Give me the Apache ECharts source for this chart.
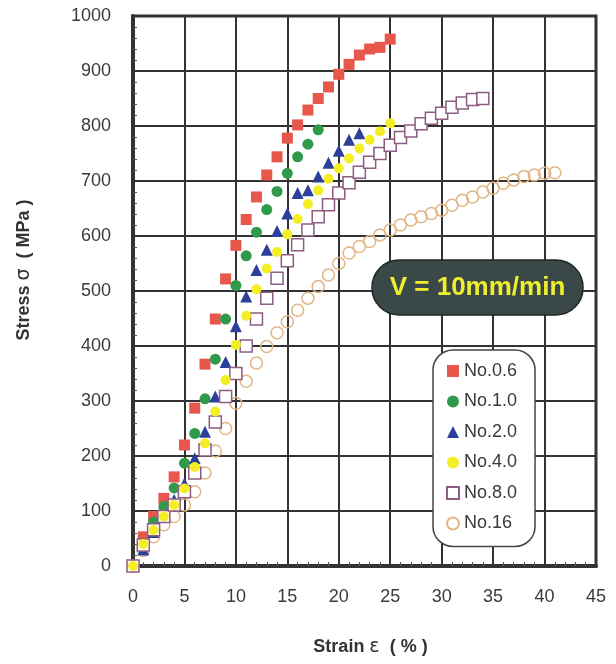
<!DOCTYPE html>
<html><head><meta charset="utf-8">
<script src="https://cdn.jsdelivr.net/npm/echarts@6/dist/echarts.min.js"></script>
<style>html,body{margin:0;padding:0;background:#fff}#c{width:616px;height:664px}</style>
</head><body><div id="c"></div>
<script>
const seriesNames = ['No.0.6', 'No.1.0', 'No.2.0', 'No.4.0', 'No.8.0', 'No.16'];
const xTicks = [0, 5, 10, 15, 20, 25, 30, 35, 40, 45];
const yTicks = [0, 100, 200, 300, 400, 500, 600, 700, 800, 900, 1000];

const strain06 = [0,1,2,3,4,5,6,7,8,9,10,11,12,13,14,15,16,17,18,19,20,21,22,23,24,25];
const stress06 = [0,53,90,123,162,220,287,367,449,522,583,630,671,711,744,778,802,829,850,871,894,912,929,940,943,958];

const strain10 = [0,1,2,3,4,5,6,7,8,9,10,11,12,13,14,15,16,17,18];
const stress10 = [0,41,80,108,142,187,241,304,376,449,510,564,607,648,681,714,744,767,793];

const strain20 = [0,1,2,3,4,5,6,7,8,9,10,11,12,13,14,15,16,17,18,19,20,21,22];
const stress20 = [0,30,62,92,120,150,196,244,308,371,436,490,538,575,609,641,678,683,708,733,755,775,787];

const strain40 = [0,1,2,3,4,5,6,7,8,9,10,11,12,13,14,15,16,17,18,19,20,21,22,23,24,25];
const stress40 = [0,40,65,90,111,141,180,223,281,338,402,455,503,541,571,603,631,658,683,704,723,741,759,775,790,805];

const strain80 = [0,1,2,3,4,5,6,7,8,9,10,11,12,13,14,15,16,17,18,19,20,21,22,23,24,25,26,27,28,29,30,31,32,33,34];
const stress80 = [0,38,66,90,111,135,169,211,262,308,350,400,449,487,523,555,584,611,635,657,678,697,716,734,750,765,779,791,804,814,823,834,842,848,850];

const strain16 = [0,1,2,3,4,5,6,7,8,9,10,11,12,13,14,15,16,17,18,19,20,21,22,23,24,25,26,27,28,29,30,31,32,33,34,35,36,37,38,39,40,41];
const stress16 = [0,28,53,75,90,111,135,169,209,250,296,336,369,399,424,444,465,487,508,529,550,569,581,590,602,611,620,629,635,641,647,656,665,671,680,687,696,702,708,711,714,715];

function pairs(xs, ys) { return xs.map((x, i) => [x, ys[i]]); }

const FONT = 'Liberation Sans';
const styles = [
  { symbol: 'rect', size: 11, item: { color: '#e8574b' }, z: 3 },
  { symbol: 'circle', size: 11, item: { color: '#2f9a4a' }, z: 3 },
  { symbol: 'triangle', size: 12, item: { color: '#2c3f9a' }, z: 3 },
  { symbol: 'circle', size: 10, item: { color: '#f4ef24' }, z: 6 },
  { symbol: 'rect', size: 12, item: { color: '#ffffff', borderColor: '#8c5c82', borderWidth: 1.5 }, z: 4 },
  { symbol: 'circle', size: 12, item: { color: 'rgba(255,255,255,0)', borderColor: '#e2b585', borderWidth: 1.5 }, z: 2 }
];
const dataSets = [
  pairs(strain06, stress06), pairs(strain10, stress10), pairs(strain20, stress20),
  pairs(strain40, stress40), pairs(strain80, stress80), pairs(strain16, stress16)
];

const chart = echarts.init(document.getElementById('c'), null, { renderer: 'canvas' });
chart.setOption({
  animation: false,
  backgroundColor: '#ffffff',
  textStyle: { fontFamily: FONT },
  grid: { left: 133, top: 16, right: 20, bottom: 98, show: true, borderColor: '#333', borderWidth: 3, backgroundColor: 'transparent' },
  xAxis: {
    type: 'value', min: xTicks[0], max: xTicks[xTicks.length - 1], interval: 5,
    name: '{b|Strain }{g|ε}{b|  ( % )}', nameLocation: 'middle', nameGap: 72,
    nameTextStyle: { padding: [0, 0, 0, 12], rich: {
      b: { fontFamily: FONT, fontWeight: 'bold', fontSize: 18, color: '#333' },
      g: { fontFamily: 'DejaVu Sans', fontWeight: 'normal', fontSize: 19, color: '#333' } } },
    axisLine: { show: true, lineStyle: { color: '#333', width: 4 } },
    axisTick: { show: true, inside: true, length: 6, lineStyle: { color: '#333', width: 1 } },
    minorTick: { show: true, splitNumber: 5, length: 4, lineStyle: { color: '#555', width: 1 } },
    splitLine: { show: true, lineStyle: { color: '#333', width: 2 } },
    axisLabel: { margin: 22, fontSize: 18, color: '#3a3a3a', fontFamily: FONT, formatter: v => String(v) }
  },
  yAxis: {
    type: 'value', min: yTicks[0], max: yTicks[yTicks.length - 1], interval: 100,
    name: '{b|Stress }{g|σ}{b|  ( MPa )}', nameLocation: 'middle', nameGap: 99,
    nameTextStyle: { padding: [0, 0, 0, 42], rich: {
      b: { fontFamily: FONT, fontWeight: 'bold', fontSize: 18, color: '#333' },
      g: { fontFamily: 'DejaVu Sans', fontWeight: 'normal', fontSize: 19, color: '#333' } } },
    axisLine: { show: true, lineStyle: { color: '#333', width: 4 } },
    axisTick: { show: true, inside: true, length: 6, lineStyle: { color: '#333', width: 1 } },
    minorTick: { show: true, splitNumber: 5, length: 4, lineStyle: { color: '#555', width: 1 } },
    splitLine: { show: true, lineStyle: { color: '#333', width: 2 } },
    axisLabel: { margin: 22, fontSize: 18, color: '#3a3a3a', fontFamily: FONT, formatter: v => String(v) }
  },
  legend: {
    orient: 'vertical', left: 433, top: 350,
    data: seriesNames,
    backgroundColor: '#ffffff', borderColor: '#444', borderWidth: 1.5, borderRadius: 20,
    padding: [12, 18, 14, 13], itemGap: 12.5, itemWidth: 12, itemHeight: 12,
    textStyle: { fontSize: 18, color: '#3a3a3a', fontFamily: FONT, lineHeight: 18 },
    z: 10
  },
  graphic: [
    { type: 'rect', z: 100, zlevel: 0, shape: { x: 372, y: 260, width: 211, height: 55, r: 27 },
      style: { fill: '#3b4848', stroke: '#1f2626', lineWidth: 1.5 } },
    { type: 'text', z: 101, zlevel: 0, x: 477.5, y: 288,
      style: { text: 'V = 10mm/min', fill: '#eeee2c', font: 'bold 26px "Liberation Sans"', align: 'center', verticalAlign: 'middle' } }
  ],
  series: seriesNames.map((name, i) => ({
    name, type: 'scatter', data: dataSets[i],
    symbol: styles[i].symbol, symbolSize: styles[i].size,
    itemStyle: Object.assign({ opacity: 1 }, styles[i].item),
    z: styles[i].z
  }))
});
</script></body></html>
